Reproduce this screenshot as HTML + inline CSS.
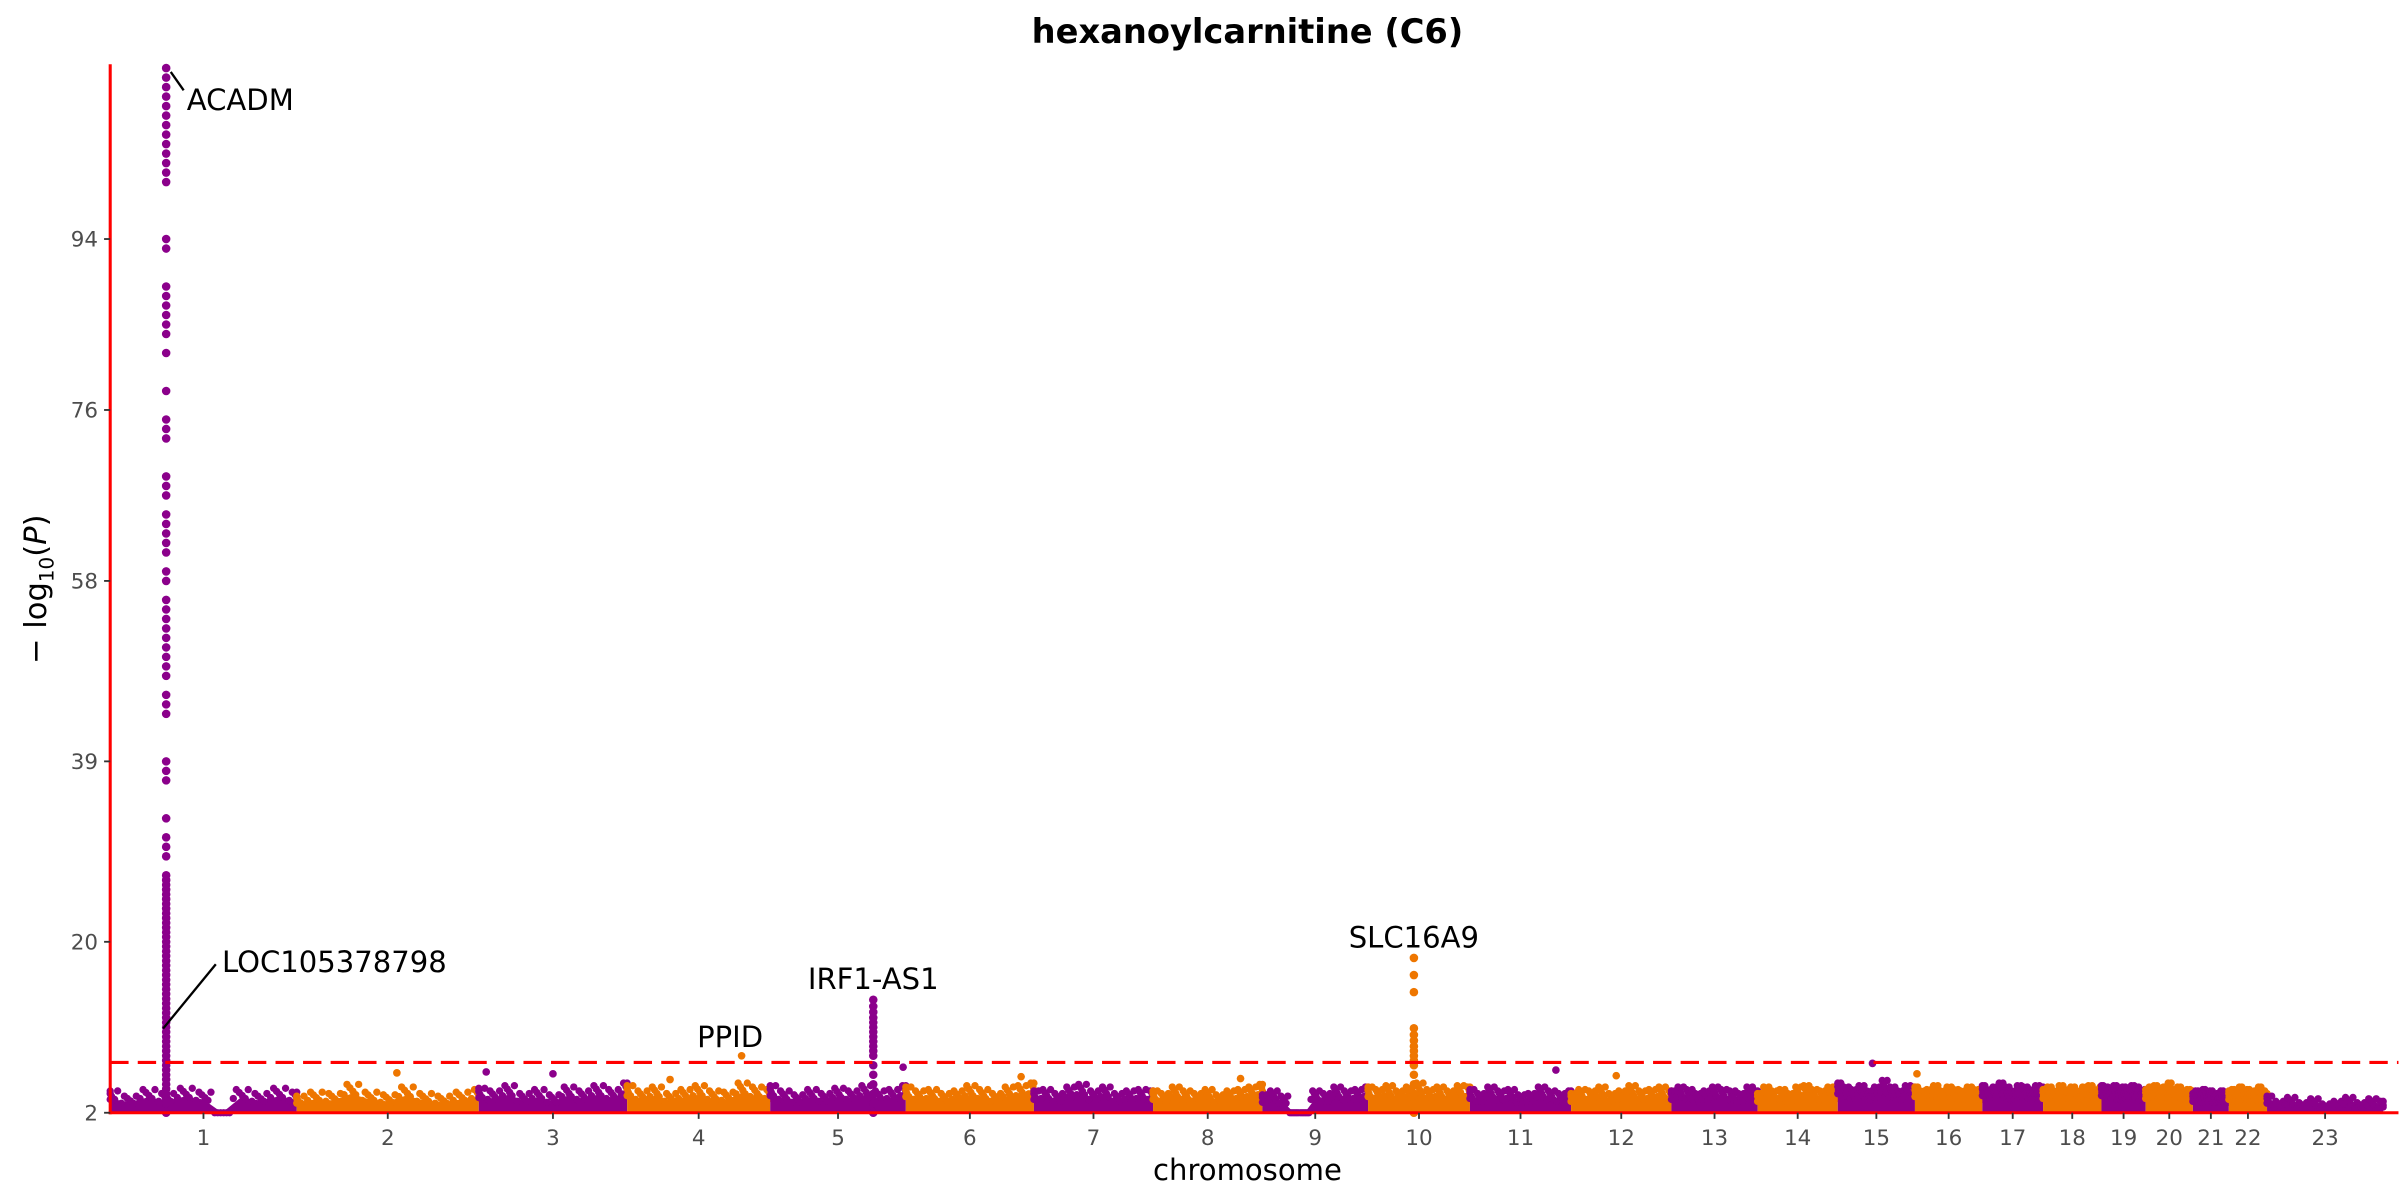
<!DOCTYPE html>
<html><head><meta charset="utf-8"><style>
html,body{margin:0;padding:0;background:#fff;}
svg{display:block;font-family:"DejaVu Sans","Liberation Sans",sans-serif;}
</style></head><body>
<svg id="chart" width="2400" height="1200" viewBox="0 0 1568 784" xmlns="http://www.w3.org/2000/svg">
<text x="815" y="28" text-anchor="middle" font-size="22" font-weight="bold" fill="#000">hexanoylcarnitine (C6)</text>
<g id="bands"></g>
<g id="pts"></g>
<g id="axes"></g>
<text x="815" y="771" text-anchor="middle" font-size="19" fill="#000">chromosome</text>
<text transform="translate(30,385) rotate(-90)" text-anchor="middle" font-size="20" fill="#000">− log<tspan font-size="13" dy="5">10</tspan><tspan dy="-5">(</tspan><tspan font-style="italic">P</tspan>)</text>
</svg>
<script>
const chrNames=["1","2","3","4","5","6","7","8","9","10","11","12","13","14","15","16","17","18","19","20","21","22","23"];
const chrLengths=[249,243,198,191,181,171,159,146,141,136,135,134,115,107,103,90,81,78,59,63,48,51,155];
const yTicks=[2,20,39,58,76,94];
const threshold=7.3;
const bandTops=[
[4.4,4.0,4.5,4.2,4.6,4.3,2.6,4.5,4.2,4.6,4.3],
[4.0,4.3,4.2,4.9,4.3,4.1,4.7,4.2,4.0,4.3,4.5],
[4.6,4.4,4.8,4.2,4.5,4.1,4.7,4.4,4.8,4.5,5.0],
[4.8,4.4,4.7,4.2,4.5,4.8,4.4,4.3,5.0,4.7,4.5],
[4.8,4.4,4.1,4.5,4.2,4.6,4.4,4.8,4.4,4.5,4.8],
[4.7,4.4,4.5,4.2,4.4,4.8,4.5,4.2,4.7,4.8,5.0],
[4.4,4.5,4.2,4.7,4.9,4.4,4.7,4.2,4.4,4.5,4.4],
[4.4,4.2,4.7,4.4,4.2,4.5,4.1,4.4,4.5,4.7,4.9],
[4.1,4.4,4.0,2.4,2.4,4.4,4.2,4.7,4.4,4.5,4.7],
[4.7,4.5,4.8,4.4,4.7,5.0,4.5,4.7,4.4,4.8,4.7],
[4.5,4.2,4.7,4.4,4.5,4.1,4.2,4.7,4.4,4.2,4.4],
[4.2,4.5,4.4,4.7,4.2,4.4,4.8,4.4,4.5,4.7,4.4],
[4.4,4.7,4.5,4.2,4.4,4.7,4.5,4.4,4.2,4.7,4.4],
[4.2,4.7,4.4,4.5,4.2,4.7,4.8,4.5,4.4,4.7,4.5],
[5.0,4.7,4.5,4.8,4.4,4.7,5.2,4.7,4.4,4.8,4.7],
[4.7,4.4,4.5,4.8,4.4,4.7,4.5,4.4,4.7,4.5,4.4],
[4.8,4.5,4.7,5.0,4.7,4.4,4.8,4.7,4.5,4.8,4.7],
[4.5,4.7,4.4,4.8,4.5,4.7,4.4,4.7,4.8,4.5,4.7],
[4.8,4.7,4.5,4.8,4.4,4.7,4.5,4.8,4.7,4.4,4.5],
[4.5,4.7,4.8,4.4,4.7,5.0,4.5,4.7,4.4,4.5,4.4],
[4.2,4.4,4.1,4.5,4.2,4.4,4.1,4.2,4.4,4.2,4.1],
[4.4,4.5,4.2,4.7,4.4,4.5,4.2,4.4,4.7,4.4,4.2],
[4.0,3.6,3.9,3.5,3.8,3.4,3.6,3.9,3.5,3.8,3.6]];
const peakChr=[0,4,9];
const peakFrac=[0.30,0.76,0.45];
const peakVals=[
[2,2.5,3,3.5,4,4.5,5,5.5,6,6.5,7,7.5,8,8.5,9,9.5,10,10.5,11,11.5,12,12.5,13,13.5,14,14.5,15,15.5,16,16.5,17,17.5,18,18.5,19,19.5,20,20.5,21,21.5,22,22.5,23,23.5,24,24.5,25,25.5,26,26.5,27,29,30,31,33,37,38,39,44,45,46,48,49,50,51,52,53,54,55,56,58,59,61,62,63,64,65,67,68,69,73,74,75,78,82,84,85,86,87,88,89,93,94,100,101,102,103,104,105,106,107,108,109,110,111,112],
[2,3,4,5,6,7,8,8.5,9,9.5,10,10.5,11,11.5,12,12.6,13.2,13.9],
[2,3,4,5,6,7,7.5,8,8.5,9,9.6,10.2,10.9,14.7,16.5,18.3]];
const extraChr=[3,4,10,14,1,2,2,15,11,5,7,3];
const extraFrac=[0.80,0.98,0.85,0.45,0.55,0.05,0.50,0.03,0.45,0.90,0.80,0.30];
const extraVals=[8.0,6.8,6.5,7.2,6.2,6.3,6.1,6.1,5.9,5.8,5.6,5.5];
const annNames=["ACADM","LOC105378798","PPID","IRF1-AS1","SLC16A9"];

const NS="http://www.w3.org/2000/svg";
const X0=72,X1=1557,Y0=727,YT=42,YMIN=2,YMAX=112.4;
const total=chrLengths.reduce((a,b)=>a+b,0);
const starts=[];let acc=0;chrLengths.forEach(l=>{starts.push(acc);acc+=l;});
function xPos(ci,f){return X0+(starts[ci]+f*chrLengths[ci])/total*(X1-X0);}
function yPos(v){return Y0-(Math.max(v,YMIN)-YMIN)/(YMAX-YMIN)*(Y0-YT);}
const colors=["#8B008B","#EE7600"];
function mk(tag,attrs,parent){const e=document.createElementNS(NS,tag);for(const k in attrs)e.setAttribute(k,attrs[k]);parent.appendChild(e);return e;}
const bands=document.getElementById('bands'),pts=document.getElementById('pts'),axes=document.getElementById('axes');
bandTops.forEach((arr,ci)=>{
  const c=colors[ci%2];
  let d="M"+xPos(ci,0)+","+Y0;
  arr.forEach((v,i)=>{const f=i/(arr.length-1);d+=" L"+xPos(ci,f)+","+yPos(v-0.9);});
  d+=" L"+xPos(ci,1)+","+Y0+" Z";
  const p=mk('path',{d:d,fill:c},bands);
  
  
  arr.forEach((v,i)=>{
    const f=i/(arr.length-1);
    const n=6;
    for(let k=0;k<n;k++){
      const ff=Math.min(1,Math.max(0,f+(k-2.5)*0.016));
      const vv=v-1.0+((k*3)%4)*0.3*(v-2)/2.4;
      const cc=mk('circle',{cx:xPos(ci,ff),cy:yPos(vv),r:2.4,fill:c},bands);
      
      
    }
  });
});
peakChr.forEach((ci,j)=>{
  peakVals[j].forEach(v=>{
    const c=mk('circle',{cx:xPos(ci,peakFrac[j]),cy:yPos(v),r:2.8,fill:colors[ci%2]},pts);
    
    
  });
});
extraChr.forEach((ci,j)=>{
  const c=mk('circle',{cx:xPos(ci,extraFrac[j]),cy:yPos(extraVals[j]),r:2.5,fill:colors[ci%2]},pts);
  
  
});
const th=mk('line',{x1:X0,x2:X1+10,y1:yPos(threshold),y2:yPos(threshold),stroke:"#ff0000","stroke-width":2,"stroke-dasharray":"12,6"},axes);


const ya=mk('line',{x1:X0,x2:X0,y1:YT,y2:Y0+1,stroke:"#ff0000","stroke-width":2},axes);


const xa=mk('line',{x1:X0-1,x2:X1+10,y1:Y0,y2:Y0,stroke:"#ff0000","stroke-width":2},axes);


yTicks.forEach(v=>{
  const y=yPos(v);
  const t=mk('line',{x1:X0-4,x2:X0,y1:y,y2:y,stroke:"#333","stroke-width":1.2},axes);
  
  
  const l=mk('text',{x:X0-8,y:y+5,"text-anchor":"end","font-size":14,fill:"#4d4d4d"},axes);
  l.textContent=v;
  
  
});
chrNames.forEach((n,ci)=>{
  const x=xPos(ci,0.5);
  const t=mk('line',{x1:x,x2:x,y1:Y0,y2:Y0+4,stroke:"#333","stroke-width":1.2},axes);
  
  
  const l=mk('text',{x:x,y:Y0+21,"text-anchor":"middle","font-size":14,fill:"#4d4d4d"},axes);
  l.textContent=n;
  
  
});
function ann(name,tx,ty,anchor,line){
  if(line){const ln=mk('line',{x1:line[0],y1:line[1],x2:line[2],y2:line[3],stroke:"#000","stroke-width":1.5},axes);
    
    }
  const t=mk('text',{x:tx,y:ty,"text-anchor":anchor,"font-size":19,fill:"#000"},axes);
  t.textContent=name;
  
  
}
const px1=xPos(0,0.30);
ann(annNames[0],122,72,"start",[px1+3,47,120,59]);
ann(annNames[1],145,635,"start",[px1-2,672,141,630]);
ann(annNames[2],477,684,"middle",null);
ann(annNames[3],xPos(4,0.76),646,"middle",null);
ann(annNames[4],xPos(9,0.45),619,"middle",null);
</script>
</body></html>
